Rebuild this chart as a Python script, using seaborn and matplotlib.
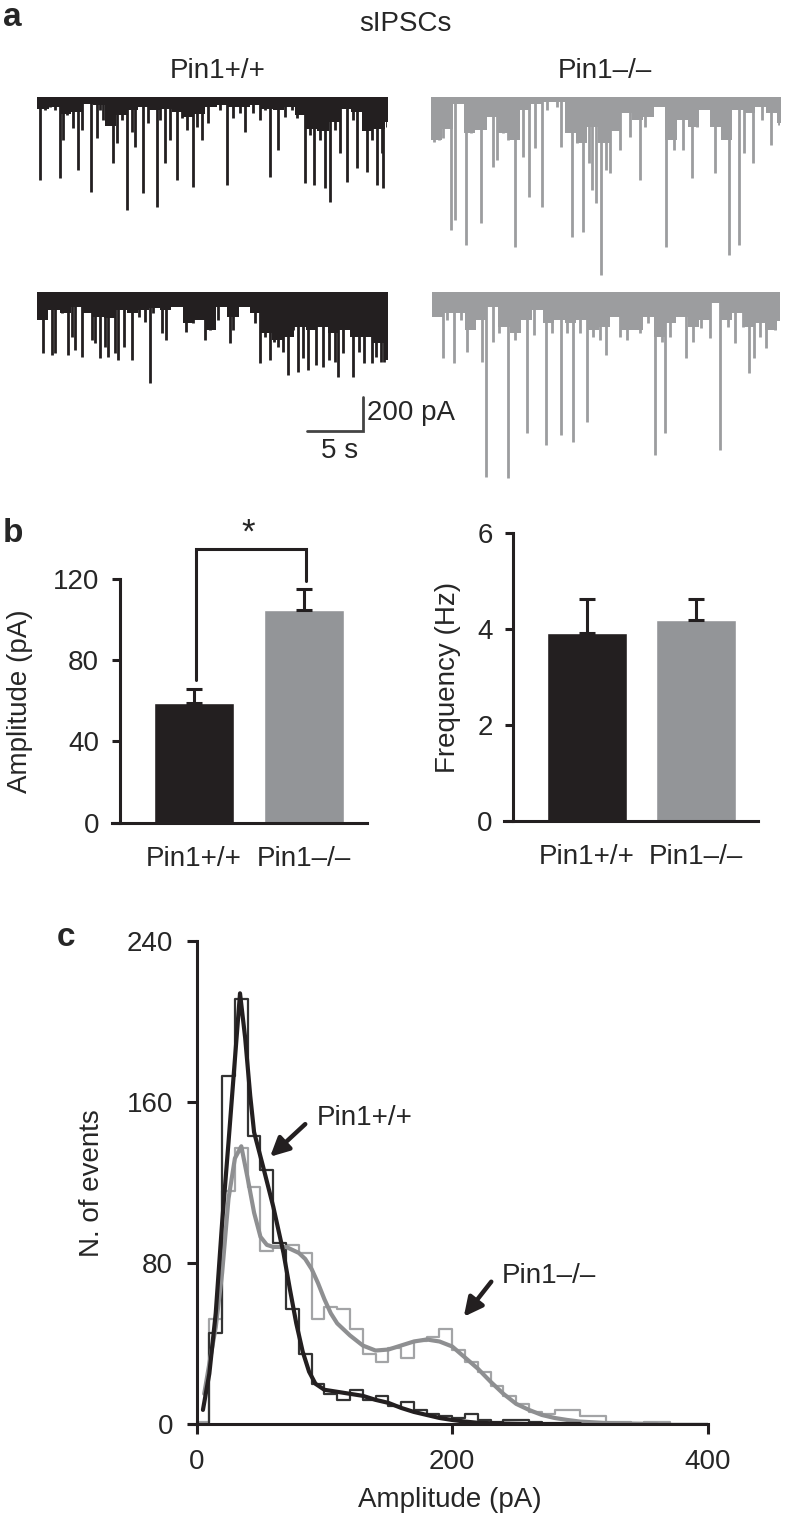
import numpy as np
import pandas as pd
import matplotlib
matplotlib.use("Agg")
import matplotlib.pyplot as plt
import seaborn as sns

sns.set_style("ticks")
plt.rcParams["font.family"] = ["Liberation Sans", "DejaVu Sans"]

W, H = 786, 1520
BLACK = "#231f20"
GREY = "#939598"
TRACE_GREY = "#9c9d9f"

# ---------------- data ----------------
genotypes = ["Pin1+/+", "Pin1\u2013/\u2013"]
amp_mean = [59.0, 104.8]
amp_sem = [7.0, 10.2]
freq_mean = [3.91, 4.18]
freq_sem = [0.71, 0.45]

# panel a: sIPSC events (time s, amplitude pA) and the dense baseline band (pA, one value per second)
wt1_t = [0.24, 0.68, 1.13, 1.58, 2.02, 2.32, 2.62, 3.21, 3.66, 3.96, 4.76, 5.30, 5.60, 5.89, 6.19,
         6.79, 7.08, 7.53, 7.98, 8.42, 8.72, 9.46, 9.91, 10.65, 10.95, 11.40, 11.85, 12.44, 12.89, 13.33,
         13.87, 14.23, 14.67, 15.27, 16.31, 16.90, 17.50, 18.10, 18.54, 19.29, 19.88, 20.33, 20.77, 21.52,
         22.11, 22.71, 23.15, 23.90, 24.35, 24.70, 25.24, 25.68, 26.13, 26.58, 27.02, 27.62, 28.21, 28.51,
         29.11, 29.40, 29.85, 30.30, 30.74, 30.89, 31.19]
wt1_amp = [490, 78, 59, 78, 480, 255, 108, 186, 431, 196, 559, 245, 78, 137, 127,
           392, 275, 137, 667, 206, 294, 569, 157, 647, 137, 392, 255, 490, 127, 196,
           529, 176, 255, 157, 78, 520, 127, 98, 206, 98, 137, 78, 471, 314,
           118, 78, 127, 510, 225, 520, 255, 539, 618, 196, 333, 500, 137, 422,
           137, 441, 255, 520, 333, 539, 176]
wt1_band = [70, 60, 100, 90, 40, 50, 170, 110, 80, 60, 80, 70, 90, 120, 100, 60,
            50, 60, 60, 50, 70, 80, 60, 110, 190, 200, 150, 70, 90, 200, 190, 150]

ko1_t = [0.33, 0.78, 1.07, 1.43, 1.79, 2.18, 3.16, 3.58, 4.48, 5.55, 5.91, 6.51, 6.96, 7.55, 8.30,
         8.75, 9.34, 9.94, 10.39, 11.28, 11.64, 12.63, 13.07, 13.67, 14.12, 14.42, 14.81, 15.25, 15.70,
         16.06, 16.90, 17.85, 18.75, 19.19, 21.04, 21.73, 22.57, 23.37, 23.82, 25.46, 26.66, 27.55,
         28.06, 28.84, 29.64, 30.45, 31.13]
ko1_amp = [265, 255, 245, 186, 784, 725, 873, 216, 745, 412, 373, 216, 255, 882, 353,
           588, 304, 647, 78, 59, 294, 824, 275, 794, 392, 549, 627, 1049, 431,
           451, 314, 235, 490, 176, 882, 314, 314, 480, 176, 451, 931, 873,
           333, 392, 137, 284, 167]
ko1_band = [255, 190, 40, 216, 196, 120, 216, 255, 78, 40, 30, 30, 216, 275, 176, 275,
            200, 98, 137, 118, 59, 255, 137, 176, 78, 176, 255, 78, 98, 59, 98, 157]

wt2_t = [0.54, 1.28, 1.58, 2.17, 2.71, 3.07, 3.36, 3.96, 4.35, 4.85, 5.15, 5.60, 6.04, 6.34, 6.93,
         7.23, 7.74, 8.13, 8.51, 9.11, 9.67, 10.06, 10.36, 11.16, 11.55, 12.14, 12.74, 13.33, 13.93,
         14.38, 14.97, 15.42, 16.16, 16.61, 17.20, 17.50, 18.84, 19.43, 19.94, 20.33, 20.77, 21.13,
         21.52, 21.96, 22.44, 22.86, 23.30, 23.75, 24.20, 24.64, 24.94, 25.54, 26.13, 26.67, 26.93,
         27.32, 27.86, 28.27, 28.75, 29.26, 29.55, 29.94, 30.30, 30.74, 31.04]
wt2_amp = [363, 373, 363, 127, 373, 265, 343, 382, 59, 284, 304, 392, 324, 382, 363,
           402, 324, 39, 402, 147, 176, 539, 127, 245, 284, 29, 29, 235, 186,
           49, 284, 225, 167, 59, 304, 225, 59, 186, 422, 265, 402, 294,
           324, 353, 490, 225, 471, 392, 461, 108, 431, 441, 402, 412, 500,
           363, 127, 500, 353, 422, 59, 422, 382, 412, 412]
wt2_band = [167, 108, 127, 88, 127, 147, 157, 108, 127, 108, 98, 108, 88, 186, 167, 225,
            88, 147, 88, 127, 245, 284, 265, 206, 225, 206, 245, 225, 265, 265, 304, 402]

ko2_t = [0.99, 1.35, 2.04, 2.60, 3.14, 4.49, 4.88, 5.54, 6.08, 6.83, 7.49, 8.53, 9.19, 10.24, 10.78,
         11.59, 12.19, 12.72, 13.32, 13.92, 14.52, 15.12, 15.66, 16.92, 17.60, 18.71, 19.46, 20.06,
         20.66, 20.96, 21.41, 22.84, 23.50, 24.25, 25.00, 25.90, 26.65, 27.25, 28.00, 28.50, 28.95,
         29.49, 30.09, 30.84]
ko2_amp = [392, 167, 422, 167, 353, 412, 1088, 294, 245, 1098, 284, 833, 255, 902, 245,
           843, 245, 882, 245, 765, 265, 284, 373, 265, 284, 245, 186, 961,
           294, 833, 265, 392, 294, 216, 275, 931, 206, 304, 206, 480, 392,
           265, 333, 225]
ko2_band = [147, 127, 127, 225, 167, 88, 206, 245, 167, 108, 186, 167, 186, 167, 225, 206,
            147, 225, 225, 147, 265, 186, 147, 206, 167, 69, 167, 127, 206, 186, 225, 170]

# panel c: amplitude histograms (10 pA bins from 0 to 400 pA)
hist_wt = [0, 45, 173, 211, 143, 126, 90, 57, 35, 20, 15, 12, 17, 12, 14, 9, 11, 7, 5, 4,
           3, 5, 2, 1, 2, 2, 1, 0, 0, 0, 0, 0, 0, 0, 0, 0, 0, 0, 0, 0]
hist_ko = [1, 52, 116, 137, 118, 86, 88, 89, 85, 52, 58, 57, 47, 35, 31, 38, 33, 41, 43, 47,
           37, 31, 26, 19, 14, 10, 6, 5, 7, 7, 4, 4, 1, 1, 0.5, 1, 1, 0, 0, 0]

wt_fit_x = [5, 10, 15, 20, 25, 29, 34, 38, 42, 45, 52, 60, 68, 73, 78, 83, 88, 93, 100,
            110, 120, 130, 140, 150, 160, 170, 180, 190, 200, 210, 220, 240, 260, 300]
wt_fit_y = [7, 25, 55, 100, 140, 173, 214, 192, 163, 145, 128, 108, 85, 67, 50, 36, 26, 20, 17,
            16, 15, 14, 12, 10.5, 8, 6, 4.5, 3, 2, 1.2, 0.6, 0.2, 0, 0]
ko_fit_x = [6, 10, 15, 20, 25, 30, 35, 40, 45, 50, 55, 60, 70, 80, 85, 90, 95, 100, 105, 110,
            120, 130, 140, 150, 160, 170, 180, 190, 200, 210, 220, 230, 240, 250, 260, 270,
            280, 290, 300, 320, 340, 360]
ko_fit_y = [15, 30, 48, 75, 112, 132, 138, 122, 105, 93, 89, 88, 88, 85, 82, 77, 70, 62, 55, 50,
            44, 39, 36.5, 37, 39, 41, 42, 41, 38.5, 33, 27.5, 21, 15, 10, 7, 4.5,
            3, 2, 1.2, 0.5, 0.2, 0]

# ---------------- figure ----------------
fig = plt.figure(figsize=(W / 100, H / 100), dpi=100)
FS = 20


def px_axes(x0, y0, x1, y1):
    return fig.add_axes([x0 / W, 1 - y1 / H, (x1 - x0) / W, (y1 - y0) / H])


def px_text(x, y, s, **kw):
    fig.text(x / W, 1 - y / H, s, **kw)


def draw_trace(x0, x1, base, t, amp, band, color):
    ax = px_axes(x0, base - 8, x1, base + 200)
    edges = np.arange(len(band) + 1)
    depth = np.r_[band, band[-1]]
    ax.fill_between(edges, 0, -depth, step="post", color=color, lw=0)
    ax.fill_between([0, 31.25], 0, -30, color=color, lw=0)
    ax.vlines(t, 0, -np.asarray(amp), color=color, lw=2.0)
    ax.set_xlim(0, 31.25)
    ax.set_ylim(-200 / 0.17, 8 / 0.17)
    ax.axis("off")
    return ax


# ---- panel a ----
draw_trace(37.3, 387.3, 96.7, wt1_t, wt1_amp, wt1_band, BLACK)
draw_trace(430.7, 780, 96.7, ko1_t, ko1_amp, ko1_band, TRACE_GREY)
ax_bl = draw_trace(37.3, 386.7, 291.7, wt2_t, wt2_amp, wt2_band, BLACK)
draw_trace(431.7, 779.3, 291.7, ko2_t, ko2_amp, ko2_band, TRACE_GREY)

# scale bar 5 s / 200 pA
ax_bl.plot([24.1, 29.1, 29.1], [-817, -817, -617], color="#444444", lw=2, clip_on=False,
           solid_joinstyle="miter")
ax_bl.text(29.45, -714, "200 pA", fontsize=FS, ha="left", va="center")
ax_bl.text(27.0, -940, "5 s", fontsize=FS, ha="center", va="center")

px_text(405, 24, "sIPSCs", fontsize=FS, ha="center", va="center")
px_text(218, 71, genotypes[0], fontsize=FS, ha="center", va="center")
px_text(605, 71, genotypes[1], fontsize=FS, ha="center", va="center")

# ---- panel b ----
def bar_panel(box, xlim, spine_x, means, sems, ylim, ticks, ylabel, label_x):
    ax = px_axes(*box)
    sns.barplot(x=genotypes, y=means, hue=genotypes, palette=[BLACK, GREY], width=0.73,
                errorbar=None, legend=False, saturation=1, ax=ax)
    ax.errorbar([0, 1], means, yerr=[[0, 0], sems], fmt="none", ecolor=BLACK,
                elinewidth=2.2, capsize=6, capthick=2.2, zorder=1)
    ax.set_xlim(*xlim)
    ax.set_ylim(*ylim)
    ax.set_yticks(ticks)
    ax.spines["left"].set_position(("data", spine_x))
    for s in ("top", "right"):
        ax.spines[s].set_visible(False)
    for s in ("left", "bottom"):
        ax.spines[s].set_linewidth(2.2)
        ax.spines[s].set_color(BLACK)
    ax.tick_params(axis="y", length=6, width=2.2, labelsize=FS, pad=9, color=BLACK)
    ax.tick_params(axis="x", length=0, labelsize=FS, pad=17)
    ax.set_xlabel("")
    ax.set_ylabel(ylabel, fontsize=FS, va="center")
    ax.yaxis.set_label_coords(label_x, 0.5)
    return ax


ax_amp = bar_panel((112, 579, 367, 822.7), (-0.745, 1.573), -0.673, amp_mean, amp_sem,
                   (0, 120), [0, 40, 80, 120], "Amplitude (pA)", (20 - 112) / 255)
# significance bracket
ax_amp.plot([0.02, 0.02, 1.02, 1.02], [70.5, 135, 135, 119], color=BLACK, lw=2.2,
            clip_on=False, solid_joinstyle="miter")
ax_amp.text(0.49, 134.5, "*", fontsize=25, ha="center", va="bottom")

bar_panel((504.3, 533.3, 758.3, 820.7), (-0.759, 1.572), -0.676, freq_mean, freq_sem,
          (0, 6), [0, 2, 4, 6], "Frequency (Hz)", (448 - 504.3) / 254)

# ---- panel c ----
ax_c = px_axes(189, 941, 708, 1424)
hist_df = pd.DataFrame({"amp": np.arange(5, 400, 10), "wt": hist_wt, "ko": hist_ko})
sns.histplot(data=hist_df, x="amp", weights="ko", binwidth=10, binrange=(0, 400),
             element="step", fill=False, color="#a3a4a6", lw=1.6, ax=ax_c)
sns.histplot(data=hist_df, x="amp", weights="wt", binwidth=10, binrange=(0, 400),
             element="step", fill=False, color="#333333", lw=1.6, ax=ax_c)
sns.lineplot(x=ko_fit_x, y=ko_fit_y, color="#8e8f91", lw=3, ax=ax_c)
sns.lineplot(x=wt_fit_x, y=wt_fit_y, color=BLACK, lw=3, ax=ax_c)

ax_c.set_xlim(-5.9, 400)
ax_c.set_ylim(0, 240)
ax_c.set_xticks([0, 200, 400])
ax_c.set_yticks([0, 80, 160, 240])
ax_c.spines["left"].set_position(("data", 0))
for s in ("top", "right"):
    ax_c.spines[s].set_visible(False)
for s in ("left", "bottom"):
    ax_c.spines[s].set_linewidth(2.2)
    ax_c.spines[s].set_color(BLACK)
ax_c.tick_params(axis="both", length=7, width=2.2, labelsize=FS, color=BLACK)
ax_c.tick_params(axis="y", pad=10)
ax_c.tick_params(axis="x", pad=11)
ax_c.set_xlabel("")
ax_c.set_ylabel("")

arrow = dict(arrowstyle="-|>", lw=3.2, color=BLACK, mutation_scale=28, shrinkA=0, shrinkB=0)
ax_c.annotate("", xy=(57.5, 132.8), xytext=(85, 149), arrowprops=arrow)
ax_c.text(94, 152, genotypes[0], fontsize=FS, ha="left", va="center")
ax_c.annotate("", xy=(209, 53.3), xytext=(230.5, 70.7), arrowprops=arrow)
ax_c.text(239, 73.5, genotypes[1], fontsize=FS, ha="left", va="center")

px_text(450, 1500, "Amplitude (pA)", fontsize=FS, ha="center", va="center")
px_text(92, 1183, "N. of events", fontsize=FS, ha="center", va="center", rotation=90)

# panel letters
for x, y, s in [(12, 18, "a"), (13, 533, "b"), (66, 938, "c")]:
    px_text(x, y, s, fontsize=24, fontweight="bold", ha="center", va="center")

fig.savefig("out.png", dpi=100)
